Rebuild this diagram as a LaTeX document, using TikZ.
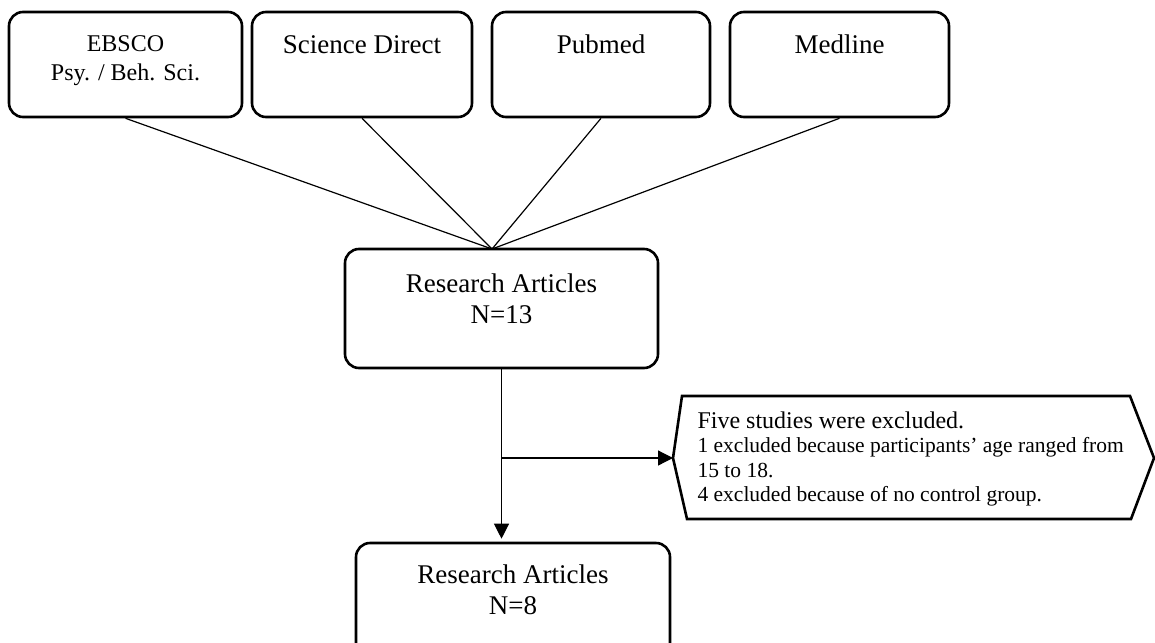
\documentclass[tikz,border=0pt]{standalone}
\usepackage{fontspec}
\setmainfont{Liberation Serif}
\usetikzlibrary{arrows.meta}
\begin{document}
\begin{tikzpicture}[x=1pt,y=-1pt,
  srcbox/.style={draw, line width=2.6pt, rounded corners=14pt, inner sep=0pt, minimum height=105pt},
  resbox/.style={draw, line width=2.6pt, rounded corners=14pt, inner sep=0pt},
  conn/.style={draw, line width=1.2pt},
  arr/.style={draw, line width=1.2pt, -{Triangle[length=15pt,width=15pt]}},
  smalltxt/.style={anchor=base, font=\fontsize{24}{28}\selectfont},
  bigtxt/.style={anchor=base, font=\fontsize{27}{31}\selectfont},
  exctxt/.style={anchor=base west, font=\fontsize{21.5}{24}\selectfont}]
\clip (0,0) rectangle (1155,642);
% source boxes
\node[srcbox, minimum width=233pt] (ebsco) at (125.5,64.5) {};
\node[srcbox, minimum width=220pt] (sd) at (362,64.5) {};
\node[srcbox, minimum width=218pt] (pub) at (601,64.5) {};
\node[srcbox, minimum width=219pt] (med) at (839.5,64.5) {};
\node[smalltxt] (ebscoA) at (125.5,52) {EBSCO};
\node[smalltxt] (ebscoB) at (125.5,81) {Psy. / Beh. Sci.};
\node[bigtxt] (sdT) at (362,53) {Science Direct};
\node[bigtxt] (pubT) at (601,53) {Pubmed};
\node[bigtxt] (medT) at (839.5,53) {Medline};
% research articles boxes
\node[resbox, minimum width=313pt, minimum height=119pt] (n13) at (501.5,308.5) {};
\node[bigtxt] (n13A) at (501.5,292) {Research Articles};
\node[bigtxt] (n13B) at (501.5,323) {N=13};
\node[resbox, minimum width=314pt, minimum height=117pt] (n8) at (513,601.5) {};
\node[bigtxt] (n8A) at (513,583) {Research Articles};
\node[bigtxt] (n8B) at (513,614) {N=8};
% converging lines
\coordinate (conv) at (492,249);
\draw[conn] (ebsco.south) -- (conv);
\draw[conn] (sd.south) -- (conv);
\draw[conn] (pub.south) -- (conv);
\draw[conn] (med.south) -- (conv);
% exclusion shape
\coordinate (hL) at (673,458);
\coordinate (hTL) at (682,396);
\coordinate (hTR) at (1130,396);
\coordinate (hR) at (1154,458);
\coordinate (hBR) at (1131,519);
\coordinate (hBL) at (687,519);
\draw[line width=2.6pt, line join=miter] (hL) -- (hTL) -- (hTR) -- (hR) -- (hBR) -- (hBL) -- cycle;
\node[exctxt, font=\fontsize{24}{28}\selectfont] (ex1) at (694,428) {Five studies were excluded.};
\node[exctxt] (ex2) at (694,452.5) {1 excluded because participants’ age ranged from};
\node[exctxt] (ex3) at (694,477) {15 to 18.};
\node[exctxt] (ex4) at (694,501) {4 excluded because of no control group.};
% flow arrows
\coordinate (branch) at (n13.south |- hL);
\coordinate (n8in) at (n13.south |- n8.north);
\draw[arr, shorten >=3pt] (n13.south) -- (n8in);
\draw[arr] (branch) -- (hL);
\end{tikzpicture}
\end{document}
